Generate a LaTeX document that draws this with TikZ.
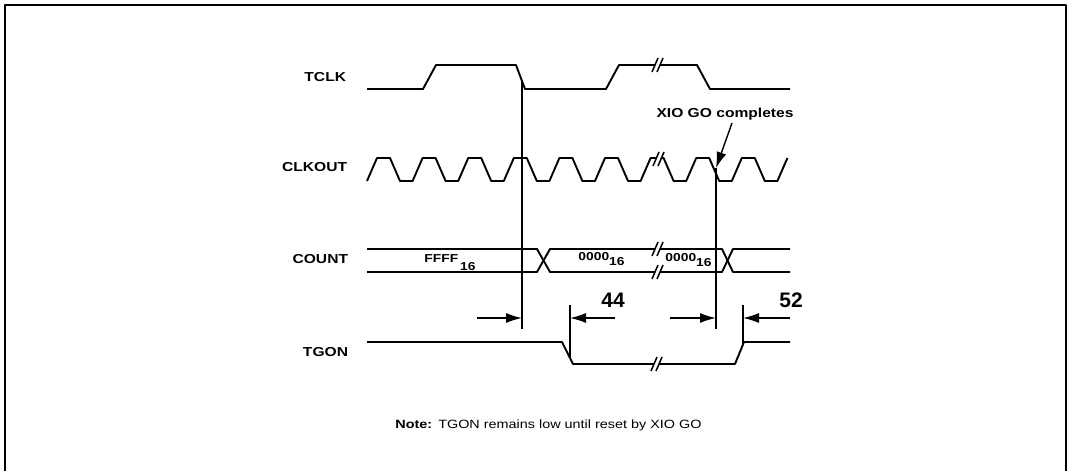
\documentclass[tikz,border=0pt]{standalone}
\usepackage{fontspec}
\setmainfont{Liberation Sans}[FakeStretch=1.2]
\newfontfamily\numfont{Liberation Sans}
\usetikzlibrary{arrows.meta}

% two slashes with a gap, cut into a wave at (x,y)
\newcommand\wavebreak[2]{%
  \fill[white] (#1-6,#2+7) -- (#1,#2-7) -- (#1+5,#2-7) -- (#1-1,#2+7) -- cycle;
  \draw[line width=1.5pt] (#1-6,#2+7) -- (#1,#2-7);
  \draw[line width=1.5pt] (#1-1,#2+7) -- (#1+5,#2-7);
}

\begin{document}
\begin{tikzpicture}[x=1pt,y=-1pt,line width=1.9pt,line join=round,
    >={Latex[length=16pt,width=10pt]}]
	\tikzstyle{sig}=[font=\bfseries\fontsize{13}{15}\selectfont,anchor=east,inner sep=0pt]
	\tikzstyle{bus}=[font=\bfseries\fontsize{11.5}{13}\selectfont,anchor=base,inner sep=0pt]
	\tikzstyle{num}=[font=\numfont\bfseries\fontsize{21}{24}\selectfont,inner sep=0pt]
	\tikzstyle{guide}=[line width=1.6pt]
	\tikzstyle{dim}=[line width=1.4pt,->]

	\useasboundingbox (0,0) rectangle (1073,471);
	\draw[line width=2.2pt] (5,471) -- (5,5) -- (1066,5) -- (1066,471);

	% signal names
	\node[sig] (tclk) at (347,77) {TCLK};
	\node[sig] (clkout) at (348,167) {CLKOUT};
	\node[sig] (count) at (349,259) {COUNT};
	\node[sig] (tgon) at (349,352) {TGON};

	% TCLK
	\draw (367,89) -- (423,89) -- (436,65) -- (516,65) -- (525,89) -- (606,89)
	  -- (619,65) -- (697,65) -- (710,89) -- (790,89);
	\wavebreak{658}{65}

	% CLKOUT
	\draw (367,181) \foreach \k in {0,...,8} {-- ++(10,-23) -- ++(13,0) -- ++(10,23) -- ++(12.6,0)}
	  -- ++(10,-23);
	\wavebreak{659}{159}

	% COUNT
	\draw (367,249) -- (537,249) -- (550,272) -- (722,272) -- (733,249) -- (790,249);
	\draw (367,272) -- (537,272) -- (550,249) -- (722,249) -- (733,272) -- (790,272);
	\wavebreak{658}{249}
	\wavebreak{658}{272}
	\node[bus] (ffff) at (450,262) {FFFF\hspace{2pt}\raisebox{-8pt}{16}};
	\node[bus] (zeroa) at (601.5,260) {0000\raisebox{-5pt}{16}};
	\node[bus] (zerob) at (688.5,261) {0000\raisebox{-5pt}{16}};

	% TGON
	\draw (367,342) -- (562,342) -- (573,364) -- (735,364) -- (744,342) -- (790,342);
	\wavebreak{657}{364}

	% reference lines
	\coordinate (vatop) at (522,80);
	\coordinate (vabot) at (522,329);
	\coordinate (vbtop) at (716,168);
	\coordinate (vbbot) at (716,329);
	\draw[guide] (vatop) -- (vabot);
	\draw[guide] (vbtop) -- (vbbot);

	% XIO GO completes
	\node[font=\bfseries\fontsize{13}{15}\selectfont,inner sep=0pt] (xio) at (725,114) {XIO GO completes};
	\draw[line width=1.4pt,->] ([xshift=7pt,yshift=-2pt]xio.south) -- (vbtop);

	% timing marks
	\coordinate (fall) at (570,305);
	\coordinate (fallend) at (570,357);
	\coordinate (rise) at (743,305);
	\coordinate (riseend) at (743,344);
	\draw[guide] (fall) -- (fallend);
	\draw[guide] (rise) -- (riseend);
	\coordinate (ta) at (477,318);
	\coordinate (tb) at (615,318);
	\coordinate (tc) at (670,318);
	\coordinate (td) at (790,318);
	\draw[dim] (ta) -- (vabot |- ta);
	\draw[dim] (tb) -- (fall |- tb);
	\draw[dim] (tc) -- (vbbot |- tc);
	\draw[dim] (td) -- (rise |- td);
	\node[num] (n44) at (613,300) {44};
	\node[num] (n52) at (791,300) {52};

	% note
	\node[font=\fontsize{12}{14}\selectfont,inner sep=0pt] (note) at (548.5,425)
	  {\textbf{Note:}\hspace{0.5em}TGON remains low until reset by XIO GO};
\end{tikzpicture}
\end{document}
